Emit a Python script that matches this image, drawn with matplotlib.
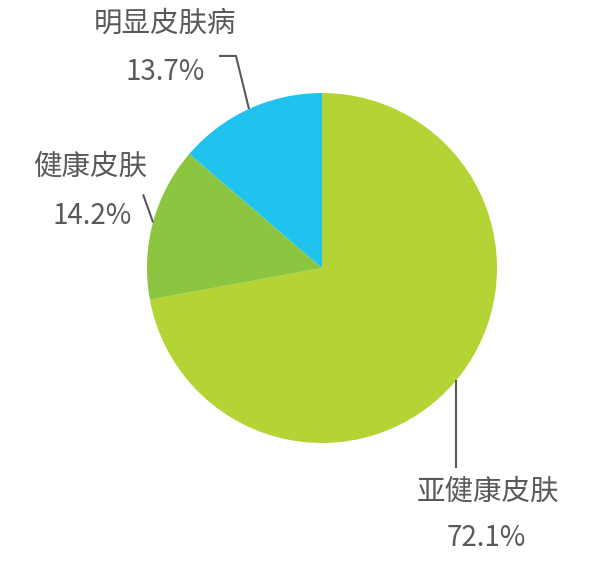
import numpy as np
import matplotlib.pyplot as plt

plt.rcParams['font.family'] = ['Noto Sans CJK SC', 'DejaVu Sans']

labels = ["亚健康皮肤", "健康皮肤", "明显皮肤病"]
shares = [72.1, 14.2, 13.7]
colors = ["#b4d334", "#8cc53f", "#1fc3ee"]

W, H = 600, 576
cx, cy, r = 322, H - 268, 175
txt_color = "#595959"

fig = plt.figure(figsize=(6, 5.76), dpi=100)
ax = fig.add_axes([0, 0, 1, 1])
wedges, _ = ax.pie(shares, colors=colors, startangle=90, counterclock=False,
                   center=(cx, cy), radius=r, frame=True,
                   wedgeprops=dict(linewidth=0))
ax.set_xlim(0, W)
ax.set_ylim(0, H)
ax.set_aspect("equal")
ax.axis("off")

# leader line path offsets (px) relative to edge anchor, and label placement
layout = {
    "亚健康皮肤": dict(path=[(0, -88)], name=(488, H - 492), pct=(486, H - 538)),
    "健康皮肤": dict(path=[(-10, 28)], name=(90, H - 167), pct=(92, H - 216)),
    "明显皮肤病": dict(path=[(-13, 53), (-30, 53)], name=(165, H - 24), pct=(165, H - 72)),
}

for w, lab, v in zip(wedges, labels, shares):
    mid = np.deg2rad((w.theta1 + w.theta2) / 2)
    x0, y0 = cx + r * np.cos(mid), cy + r * np.sin(mid)
    spec = layout[lab]
    xs = [x0] + [x0 + dx for dx, dy in spec["path"]]
    ys = [y0] + [y0 + dy for dx, dy in spec["path"]]
    ax.plot(xs, ys, color=txt_color, lw=1.5, solid_capstyle="butt")
    ax.text(*spec["name"], lab, ha="center", va="center", fontsize=20.5, color=txt_color)
    ax.text(*spec["pct"], f"{v:.1f}%", ha="center", va="center", fontsize=20, color=txt_color)

fig.savefig("out.png", dpi=100)
